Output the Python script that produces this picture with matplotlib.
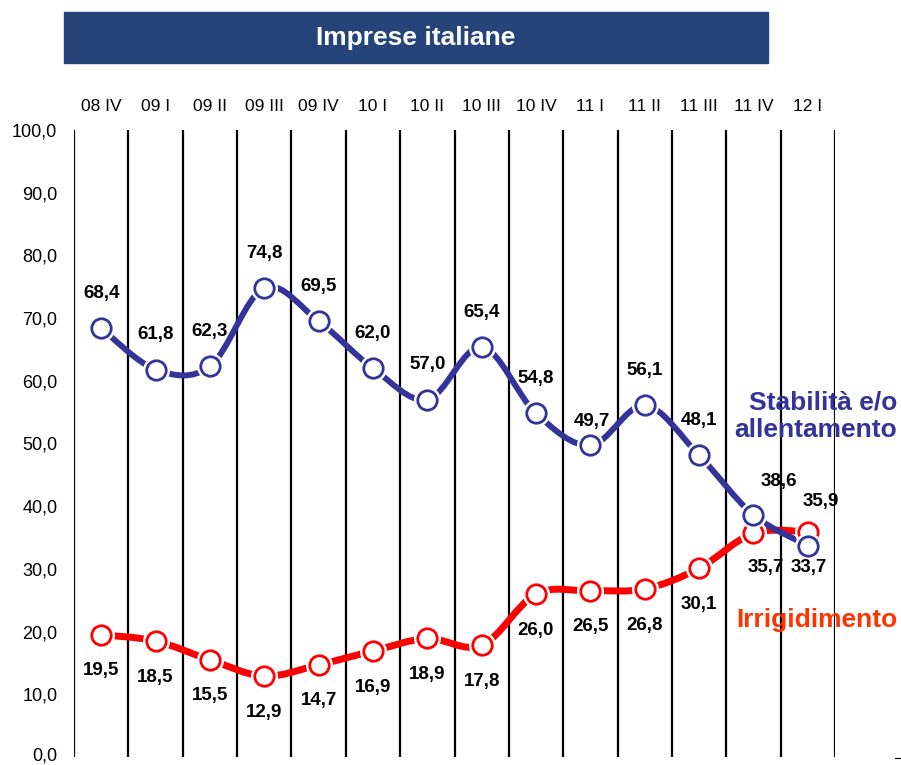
import matplotlib
matplotlib.use("Agg")
import matplotlib.pyplot as plt
from matplotlib.path import Path
from matplotlib.patches import PathPatch, Rectangle
from matplotlib.lines import Line2D
from matplotlib.transforms import ScaledTranslation

plt.rcParams['font.family'] = ['Liberation Sans', 'DejaVu Sans']

quarters = ['08 IV', '09 I', '09 II', '09 III', '09 IV', '10 I', '10 II',
            '10 III', '10 IV', '11 I', '11 II', '11 III', '11 IV', '12 I']
stabilita = [68.4, 61.8, 62.3, 74.8, 69.5, 62.0, 57.0, 65.4, 54.8, 49.7,
             56.1, 48.1, 38.6, 33.7]
irrigidimento = [19.5, 18.5, 15.5, 12.9, 14.7, 16.9, 18.9, 17.8, 26.0, 26.5,
                 26.8, 30.1, 35.7, 35.9]
yticks = [0, 10, 20, 30, 40, 50, 60, 70, 80, 90, 100]

BLUE = '#333399'
RED = '#FF0000'


def fmt(v):
    return f'{v:.1f}'.replace('.', ',')


def smooth_path(xs, ys):
    # Excel-like smoothed line: Catmull-Rom converted to cubic Bezier
    pts = list(zip(xs, ys))
    verts = [pts[0]]
    codes = [Path.MOVETO]
    n = len(pts)
    for i in range(n - 1):
        p0 = pts[i - 1] if i > 0 else pts[i]
        p1 = pts[i]
        p2 = pts[i + 1]
        p3 = pts[i + 2] if i + 2 < n else pts[i + 1]
        c1 = (p1[0] + (p2[0] - p0[0]) / 6, p1[1] + (p2[1] - p0[1]) / 6)
        c2 = (p2[0] - (p3[0] - p1[0]) / 6, p2[1] - (p3[1] - p1[1]) / 6)
        verts += [c1, c2, p2]
        codes += [Path.CURVE4] * 3
    return Path(verts, codes)


fig = plt.figure(figsize=(9.01, 7.65), dpi=100)
ax = fig.add_axes([74 / 901, 1 - 757 / 765, (835 - 74) / 901, (757 - 130) / 765])
x = list(range(len(quarters)))
ax.set_xlim(-0.5, len(quarters) - 0.5)
ax.set_ylim(0, 100)

for b in range(len(quarters) + 1):
    ax.axvline(b - 0.5, color='black', lw=1.6, zorder=1)

ax.add_patch(PathPatch(smooth_path(x, irrigidimento), fill=False, ec=RED,
                       lw=5, capstyle='round', zorder=2))
ax.add_patch(PathPatch(smooth_path(x, stabilita), fill=False, ec=BLUE,
                       lw=4.3, capstyle='round', zorder=3))

for vals, col, z in [(irrigidimento, RED, 4), (stabilita, BLUE, 6)]:
    ax.plot(x, vals, ls='none', marker='o', ms=19.5, mfc='white', mec='none', zorder=z)
    ax.plot(x, vals, ls='none', marker='o', ms=14, mfc='white', mec=col,
            mew=2, zorder=z + 0.5)

# label offsets in points (dx, dy)
blue_off = [(0, 25)] * len(quarters)
blue_off[9] = (1, 17)
blue_off[12] = (18, 24)
blue_off[13] = (1, -16)
red_off = [(0, -26)] * len(quarters)
red_off[12] = (9, -25)
red_off[13] = (9, 22)

for i, v in enumerate(stabilita):
    ax.annotate(fmt(v), (x[i], v), xytext=blue_off[i], textcoords='offset points',
                ha='center', va='center', fontsize=13.5, fontweight='bold',
                color='black', zorder=10)
for i, v in enumerate(irrigidimento):
    ax.annotate(fmt(v), (x[i], v), xytext=red_off[i], textcoords='offset points',
                ha='center', va='center', fontsize=13.5, fontweight='bold',
                color='black', zorder=10)

ax.set_yticks(yticks)
ax.set_yticklabels([fmt(t) for t in yticks], fontsize=13)
ax.tick_params(axis='y', length=0, pad=12)
ax.set_xticks([])
for s in ax.spines.values():
    s.set_visible(False)
# nudge the bottom label up a little so it stays inside the image
lab0 = ax.yaxis.get_major_ticks()[0].label1
lab0.set_transform(lab0.get_transform() + ScaledTranslation(0, 3 / 100, fig.dpi_scale_trans))

for i, q in enumerate(quarters):
    ax.text(x[i], 103.7, q, ha='center', va='center', fontsize=12.5, clip_on=False)

# title bar
fig.patches.append(Rectangle((64 / 901, 1 - 63 / 765), (768 - 64) / 901, 51 / 765,
                             transform=fig.transFigure, color='#25457A', zorder=0))
fig.text(416 / 901, 1 - 38 / 765, 'Imprese italiane', ha='center', va='center',
         color='white', fontsize=19, fontweight='bold')

fig.text(897 / 901, 1 - 416 / 765, 'Stabilità e/o\nallentamento', ha='right',
         va='center', multialignment='right', color=BLUE, fontsize=19,
         fontweight='bold', linespacing=1.2)
fig.text(897 / 901, 1 - 620 / 765, 'Irrigidimento', ha='right', va='center',
         color='#FF3300', fontsize=19, fontweight='bold')

fig.add_artist(Line2D([895 / 901, 901 / 901], [1 - 758 / 765] * 2, color='black', lw=0.8))

fig.savefig('out.png', dpi=100)
